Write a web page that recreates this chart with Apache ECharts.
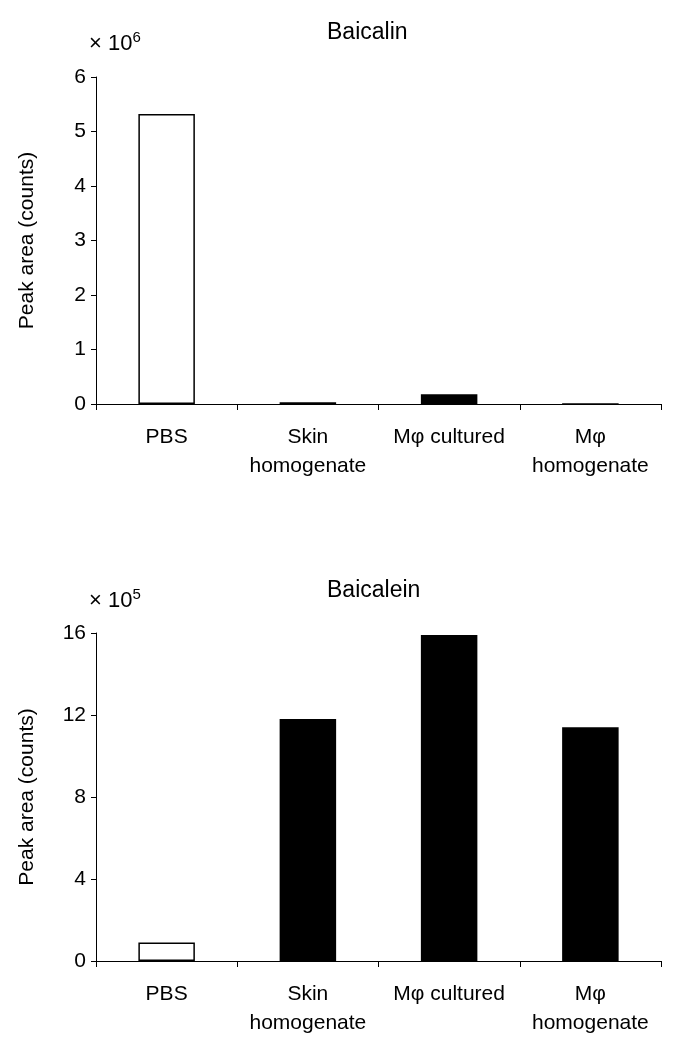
<!DOCTYPE html>
<html>
<head>
<meta charset="utf-8">
<script src="https://cdn.jsdelivr.net/npm/echarts@6/dist/echarts.min.js"></script>
<style>
  html, body { margin: 0; padding: 0; background: #fff; }
  #main { width: 680px; height: 1055px; }
</style>
</head>
<body>
<div id="main"></div>
<script>
// data
const categories = ['PBS', 'Skin\nhomogenate', 'Mφ cultured', 'Mφ\nhomogenate'];
const baicalin = [5.32, 0.03, 0.18, 0.015];   // x 10^6
const baicalein = [0.9, 11.8, 15.9, 11.4];    // x 10^5
const barFills = ['#ffffff', '#000000', '#000000', '#000000'];
const titles = ['Baicalin', 'Baicalein'];
const exponents = ['6', '5'];
const yMax = [6, 16];
const yStep = [1, 4];

const font = '"Liberation Sans", Arial, sans-serif';
const chart = echarts.init(document.getElementById('main'));

const grids = [
    { left: 96, top: 77, width: 565, height: 327 },
    { left: 96, top: 633, width: 565, height: 328 }
];

function xAxis(i) {
    return {
        type: 'category',
        gridIndex: i,
        data: categories,
        boundaryGap: true,
        axisLine: { lineStyle: { color: '#000', width: 1 } },
        axisTick: { show: true, length: 6, lineStyle: { color: '#000' } },
        axisLabel: {
            color: '#000',
            fontFamily: font,
            fontSize: 21,
            lineHeight: 29,
            margin: 19,
            interval: 0
        }
    };
}

function yAxis(i) {
    return {
        type: 'value',
        gridIndex: i,
        min: 0,
        max: yMax[i],
        interval: yStep[i],
        name: 'Peak area (counts)',
        nameLocation: 'middle',
        nameGap: 58,
        nameTextStyle: { color: '#000', fontFamily: font, fontSize: 21 },
        splitLine: { show: false },
        axisLine: { show: true, lineStyle: { color: '#000', width: 1 } },
        axisTick: { show: true, length: 5, lineStyle: { color: '#000' } },
        axisLabel: { color: '#000', fontFamily: font, fontSize: 21, margin: 10 }
    };
}

function series(i, values) {
    return {
        type: 'bar',
        xAxisIndex: i,
        yAxisIndex: i,
        barWidth: '40%',
        data: values.map((v, k) => ({
            value: v,
            itemStyle: {
                color: barFills[k],
                borderColor: '#000',
                borderWidth: k === 0 ? 1.5 : 0
            }
        }))
    };
}

const titleTops = [16, 574];
const multTops = [25, 582];

chart.setOption({
    animation: false,
    backgroundColor: '#fff',
    title: [
        ...titles.map((t, i) => ({
            text: t,
            left: 322,
            top: titleTops[i],
            textStyle: { color: '#000', fontFamily: font, fontSize: 23, fontWeight: 'normal' }
        })),
        ...exponents.map((e, i) => ({
            text: '{m|× 10}{s|' + e + '}',
            left: 84,
            top: multTops[i],
            textStyle: {
                fontWeight: 'normal',
                rich: {
                    m: { color: '#000', fontFamily: font, fontSize: 22, fontWeight: 'normal', verticalAlign: 'bottom' },
                    s: { color: '#000', fontFamily: font, fontSize: 15, fontWeight: 'normal', verticalAlign: 'top', padding: [0, 0, 10, 0] }
                }
            }
        }))
    ],
    grid: grids,
    xAxis: [xAxis(0), xAxis(1)],
    yAxis: [yAxis(0), yAxis(1)],
    series: [series(0, baicalin), series(1, baicalein)]
});
</script>
</body>
</html>
